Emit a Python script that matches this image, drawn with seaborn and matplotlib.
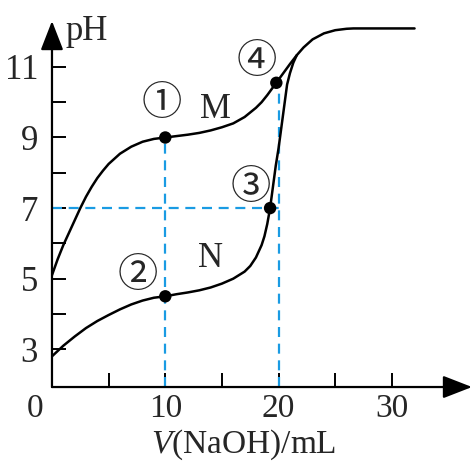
import numpy as np
import pandas as pd
import seaborn as sns
import matplotlib.pyplot as plt

# titration curves (V in mL, pH)
m_vol = [0, 0.5, 1, 1.5, 2, 2.5, 3, 3.5, 4, 4.5, 5, 6, 7, 8, 9, 10, 11, 12, 13, 14,
         15, 16, 17, 18, 18.5, 19, 19.5, 20, 20.5, 21, 21.6, 22.2, 23, 24, 25, 26,
         26.6, 32]
m_ph = [5.1, 5.55, 5.95, 6.3, 6.65, 7.0, 7.32, 7.6, 7.85, 8.06, 8.25, 8.54, 8.74,
        8.88, 8.96, 9.0, 9.04, 9.08, 9.13, 9.2, 9.29, 9.4, 9.58, 9.84, 10.0, 10.2,
        10.42, 10.64, 10.86, 11.08, 11.33, 11.55, 11.78, 11.95, 12.04, 12.08,
        12.09, 12.09]

n_vol = [0, 1, 2, 3, 4, 5, 6, 7, 8, 9, 10, 11, 12, 13, 14, 15, 16, 16.5, 17, 17.5,
         18, 18.5, 18.75, 19, 19.25, 19.5, 19.75, 20, 20.25, 20.5, 20.75, 21, 21.3,
         21.6]
n_ph = [2.8, 3.1, 3.36, 3.6, 3.8, 3.97, 4.13, 4.27, 4.38, 4.46, 4.5, 4.56, 4.61,
        4.67, 4.75, 4.86, 5.0, 5.1, 5.2, 5.36, 5.6, 5.95, 6.2, 6.55, 7.0, 7.6, 8.2,
        8.7, 9.3, 9.9, 10.5, 10.82, 11.12, 11.33]

# marked points 1-4
pt_vol = [10, 10, 19.25, 19.8]
pt_ph = [9, 4.5, 7, 10.55]
pt_labels = ["①", "②", "③", "④"]

yticks = [3, 4, 5, 6, 7, 8, 9, 10, 11]
ytick_labels = ["3", "", "5", "", "7", "", "9", "", "11"]
xticks = [5, 10, 15, 20, 25, 30]
xtick_labels = ["", "10", "", "20", "", "30"]

sns.set_style("white")
plt.rcParams["font.family"] = "Liberation Serif"
plt.rcParams["mathtext.fontset"] = "custom"
plt.rcParams["mathtext.rm"] = "Liberation Serif"
plt.rcParams["mathtext.it"] = "Liberation Serif:italic"

fig = plt.figure(figsize=(4.73, 4.63), dpi=100)
ax = fig.add_axes([0.1099, 0.1641, 0.888, 0.7905])
ax.set_xlim(0, 37.07)
ax.set_ylim(1.93, 12.3)

blue = "#1a9be3"
dash = (0, (4.5, 3))
# guide lines
ax.plot([pt_vol[0], pt_vol[0]], [1.93, pt_ph[0]], color=blue, lw=1.6, ls=dash)
ax.plot([pt_vol[3] + 0.2, pt_vol[3] + 0.2], [1.93, pt_ph[3] - 0.2], color=blue, lw=1.6, ls=dash)
ax.plot([0, 20], [pt_ph[2], pt_ph[2]], color=blue, lw=1.6, ls=dash)

df_m = pd.DataFrame({"V": m_vol, "pH": m_ph})
df_n = pd.DataFrame({"V": n_vol, "pH": n_ph})
sns.lineplot(data=df_m, x="V", y="pH", sort=False, color="black", lw=1.8, ax=ax)
sns.lineplot(data=df_n, x="V", y="pH", sort=False, color="black", lw=1.8, ax=ax)
sns.scatterplot(x=pt_vol, y=pt_ph, color="black", s=80, edgecolor="none", zorder=5, ax=ax)

fs = 25
offsets = [(-0.3, 0.95), (-2.4, 0.6), (-1.75, 0.57), (-1.75, 0.6)]
for lab, vx, vy, (dx, dy) in zip(pt_labels, pt_vol, pt_ph, offsets):
    ax.text(vx + dx, vy + dy, lab, fontsize=29, ha="center", va="center",
            family="Noto Sans CJK SC", fontweight="light")
ax.text(14.4, 9.78, "M", fontsize=fs, ha="center", va="center")
ax.text(13.95, 5.58, "N", fontsize=fs, ha="center", va="center")

# axes with arrow heads
for spine in ax.spines.values():
    spine.set_visible(False)
arrow = dict(arrowstyle="-|>,head_length=18,head_width=7", color="black",
             lw=1.6, shrinkA=0, shrinkB=0, mutation_scale=1)
ax.annotate("", xy=(1, 0), xytext=(0, 0), xycoords="axes fraction",
            textcoords="axes fraction", arrowprops=arrow)
ax.annotate("", xy=(0, 1), xytext=(0, 0), xycoords="axes fraction",
            textcoords="axes fraction", arrowprops=arrow)

ax.set_xticks(xticks, xtick_labels)
ax.set_yticks(yticks, ytick_labels)
ax.tick_params(direction="in", length=10, width=1.4, labelsize=fs, pad=6,
               color="black", bottom=True, left=True)
ax.tick_params(axis="x", labelsize=24, pad=5)
ax.tick_params(axis="y", pad=10)
ax.set_xlabel("")
ax.set_ylabel("")
ax.annotate("0", xy=(0, 1.93), xytext=(-12, -16), textcoords="offset points",
            fontsize=24, ha="center", va="center")
fig.text(66 / 473, 1 - 32 / 463, "pH", fontsize=fs, ha="left", va="center")
fig.text(244 / 473, 1 / 463, "$V$(NaOH)/mL", fontsize=24, ha="center", va="bottom")

fig.savefig("out.png", dpi=100)
